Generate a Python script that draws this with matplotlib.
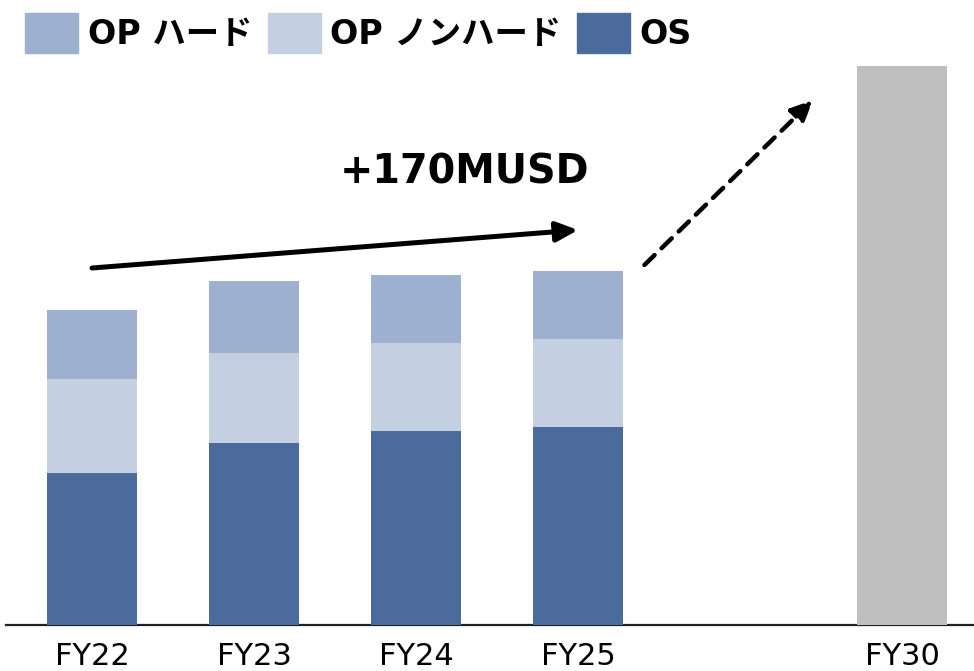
import matplotlib
matplotlib.use("Agg")
import matplotlib.pyplot as plt
from matplotlib.patches import Patch

# ── Data (arbitrary units) ────────────────────────────────────────────────────
years     = ["FY22", "FY23", "FY24", "FY25", "FY30"]
xpos      = [0, 1, 2, 3, 5]
os_vals   = [152, 182, 194, 198]
nonhard   = [94, 90, 88, 88]
hard      = [69, 72, 68, 68]
fy30_val  = 559
growth_lbl = "+170MUSD"

C_HARD    = "#9DB0CF"
C_NONHARD = "#C4CFE2"
C_OS      = "#4A6B9B"
C_FY30    = "#BFBFBF"

W, H = 974, 671
fig = plt.figure(figsize=(W / 100, H / 100), dpi=100, facecolor="white")
# axes spans the whole width, baseline at y=625px
ax = fig.add_axes([6 / W, (H - 625) / H, 968 / W, 625 / H])
ax.set_xlim((6 - 92) / 162, (974 - 92) / 162)
ax.set_ylim(0, 625)

bw = 90 / 162
x4 = xpos[:4]
ax.bar(x4, os_vals, width=bw, color=C_OS, zorder=3)
bot = os_vals
ax.bar(x4, nonhard, width=bw, bottom=bot, color=C_NONHARD, zorder=3)
bot2 = [a + b for a, b in zip(os_vals, nonhard)]
ax.bar(x4, hard, width=bw, bottom=bot2, color=C_HARD, zorder=3)
ax.bar(xpos[4], fy30_val, width=bw, color=C_FY30, zorder=3)

# ── Axis styling ──────────────────────────────────────────────────────────────
for sp in ["top", "left", "right"]:
    ax.spines[sp].set_visible(False)
ax.spines["bottom"].set_linewidth(1.6)
ax.spines["bottom"].set_color("#222222")
ax.set_yticks([])
ax.set_xticks(xpos)
ax.set_xticklabels(years, fontsize=22, family="DejaVu Sans", color="black")
ax.tick_params(axis="x", length=0, pad=12)

# ── Growth arrows ─────────────────────────────────────────────────────────────
head = "-|>,head_length=0.65,head_width=0.3"
ax.annotate("", xy=(3.0, 395), xytext=(0, 357),
            arrowprops=dict(arrowstyle=head, mutation_scale=20,
                            lw=3.6, color="black", shrinkA=0, shrinkB=0))
ax.annotate("", xy=(4.45, 525), xytext=(3.41, 360),
            arrowprops=dict(arrowstyle=head, mutation_scale=20,
                            lw=3.2, color="black", linestyle=(0, (3.2, 2.2)),
                            shrinkA=0, shrinkB=0))
ax.text(2.30, 453, growth_lbl, fontsize=28.6, fontweight="bold",
        family="DejaVu Sans", ha="center", va="center", color="black")

# ── Legend ────────────────────────────────────────────────────────────────────
handles = [Patch(color=C_HARD, label="OP ハード"),
           Patch(color=C_NONHARD, label="OP ノンハード"),
           Patch(color=C_OS, label="OS")]
fig.legend(handles=handles, loc="upper left", bbox_to_anchor=(25 / W, 1 - 13 / H),
           ncol=3, frameon=False, borderpad=0, borderaxespad=0,
           handlelength=1.59, handleheight=1.47, handletextpad=0.3,
           columnspacing=0.45,
           prop={"family": ["DejaVu Sans", "Noto Sans CJK JP"],
                 "weight": "bold", "size": 24})

fig.savefig("out.png", dpi=100, facecolor="white")
